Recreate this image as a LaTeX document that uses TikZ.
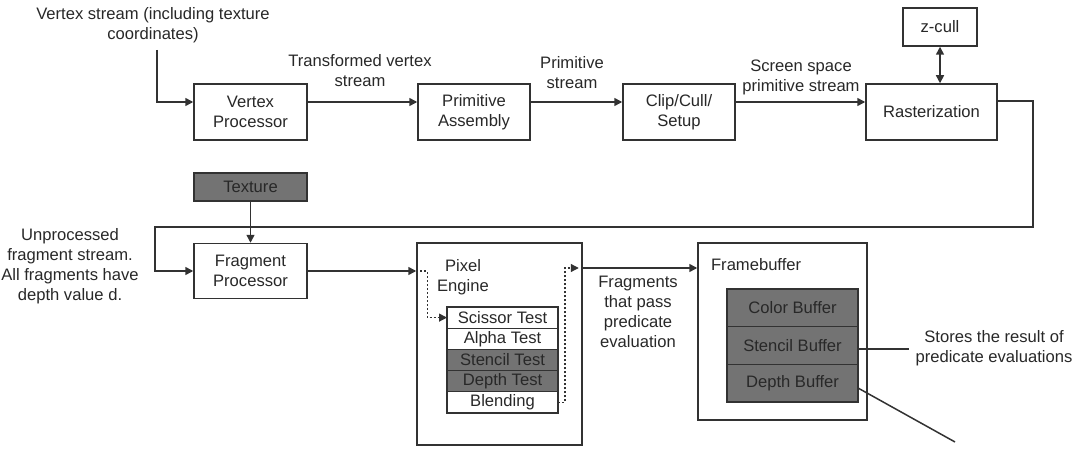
\documentclass[tikz,border=0pt]{standalone}
\usepackage{fontspec}
\setmainfont{Liberation Sans}
\usepackage{tikz}
\usetikzlibrary{arrows.meta, positioning}
\definecolor{pipe-line}{RGB}{50,50,50}
\definecolor{pipe-gray}{RGB}{115,115,115}
\definecolor{pipe-text}{RGB}{40,40,40}

\begin{document}
\begin{tikzpicture}[x=0.5pt, y=-0.5pt,
    every node/.style={font=\fontsize{8.3}{10}\selectfont, text=pipe-text},
    stage/.style={rectangle, draw=pipe-line, line width=0.75pt, fill=white,
                  minimum width=56.5pt, minimum height=28pt, align=center},
    unitbox/.style={rectangle, draw=pipe-line, line width=0.75pt},
    cell/.style={rectangle, draw=pipe-line, line width=0.6pt, outer sep=0pt,
                 inner sep=1pt, minimum width=55.5pt, minimum height=10.6pt},
    buf/.style={cell, minimum width=65.5pt, minimum height=18.85pt, fill=pipe-gray},
    lbl/.style={align=center},
    arr/.style={-{Triangle[length=4pt, width=4pt]}, line width=0.75pt, draw=pipe-line},
    arr2/.style={arr, {Triangle[length=4pt, width=4pt]}-{Triangle[length=4pt, width=4pt]}},
    dotarr/.style={arr, line width=0.6pt, dash pattern=on 1pt off 1pt},
    plain/.style={line width=0.75pt, draw=pipe-line}
  ]
    \useasboundingbox (0,0) rectangle (1074,449);

    % geometry stages
    \node[lbl] (vs) at (153,25) {Vertex stream (including texture\\coordinates)};
    \node[stage] (vp) at (250.5,112) {Vertex\\Processor};
    \node[stage, minimum width=56pt] (pa) at (474,112) {Primitive\\Assembly};
    \node[stage, minimum width=56pt] (ccs) at (679,112) {Clip/Cull/\\Setup};
    \node[stage, minimum width=65.5pt] (ras) at (931.5,112) {Rasterization};
    \node[stage, minimum width=37pt, minimum height=19pt] (zc) at (940,27) {z-cull};
    \node[lbl] (tvs) at (360,71) {Transformed vertex\\stream};
    \node[lbl] (ps) at (572,73) {Primitive\\stream};
    \node[lbl] (sps) at (801,77) {Screen space\\primitive stream};

    % fragment stages
    \node[stage, fill=pipe-gray, minimum height=14pt] (tex) at (250.5,187) {Texture};
    \node[stage, minimum height=27.5pt] (fp) at (250.5,271) {Fragment\\Processor};
    \node[lbl, inner xsep=0pt] (ufs) at (70,266) {Unprocessed\\fragment stream.\\All fragments have\\depth value d.};

    % pixel engine
    \node[unitbox, minimum width=82.5pt, minimum height=101pt] (pe) at (499.5,344) {};
    \node[lbl] (pel) at (463,277) {Pixel\\Engine};
    \node[cell] (sc) at (502.5,317.6) {Scissor Test};
    \node[cell, below=0pt of sc] (alt) {Alpha Test};
    \node[cell, fill=pipe-gray, below=0pt of alt] (stt) {Stencil Test};
    \node[cell, fill=pipe-gray, below=0pt of stt] (dpt) {Depth Test};
    \node[cell, below=0pt of dpt] (bld) {Blending};
    \node[lbl] (fpp) at (638,312) {Fragments\\that pass\\predicate\\evaluation};

    % framebuffer
    \node[unitbox, minimum width=84.5pt, minimum height=88.5pt] (fb) at (782.5,331.5) {};
    \node[anchor=west] (fbl) at (704,265) {Framebuffer};
    \node[buf] (cb) at (792.5,307.8) {Color Buffer};
    \node[buf, below=0pt of cb] (sb) {Stencil Buffer};
    \node[buf, below=0pt of sb] (db) {Depth Buffer};
    \node[lbl] (str) at (994,348) {Stores the result of\\predicate evaluations};
    \coordinate (dbend) at (955,442);

    % connectors
    \draw[arr] (vs.south -| 157,0) |- (vp.west |- 0,102);
    \foreach \a/\b in {vp/pa, pa/ccs, ccs/ras}
      \draw[arr] (\a.east |- 0,102) -- (\b.west |- 0,102);
    \draw[arr2] (zc.south) -- (zc.south |- ras.north);
    \draw[arr] (ras.east |- 0,101) -- (1033,101) |- (155,227) |- (fp.west);
    \draw[arr] (tex) -- (fp);
    \draw[arr] (fp.east) -- (pe.west |- fp.east);
    \draw[dotarr] (pe.west |- fp.east) -- ++(11,0) |- (sc.west);
    \draw[dotarr] (bld.east) -- ++(7,0) |- ([xshift=-2pt]pe.east |- 0,268);
    \draw[arr] (pe.east |- 0,268) -- (fb.west |- 0,268);
    \draw[plain] (sb.east |- 0,349) -- ++(51,0);
    \draw[plain] (db.east |- 0,388) -- (dbend);
  \end{tikzpicture}
\end{document}
